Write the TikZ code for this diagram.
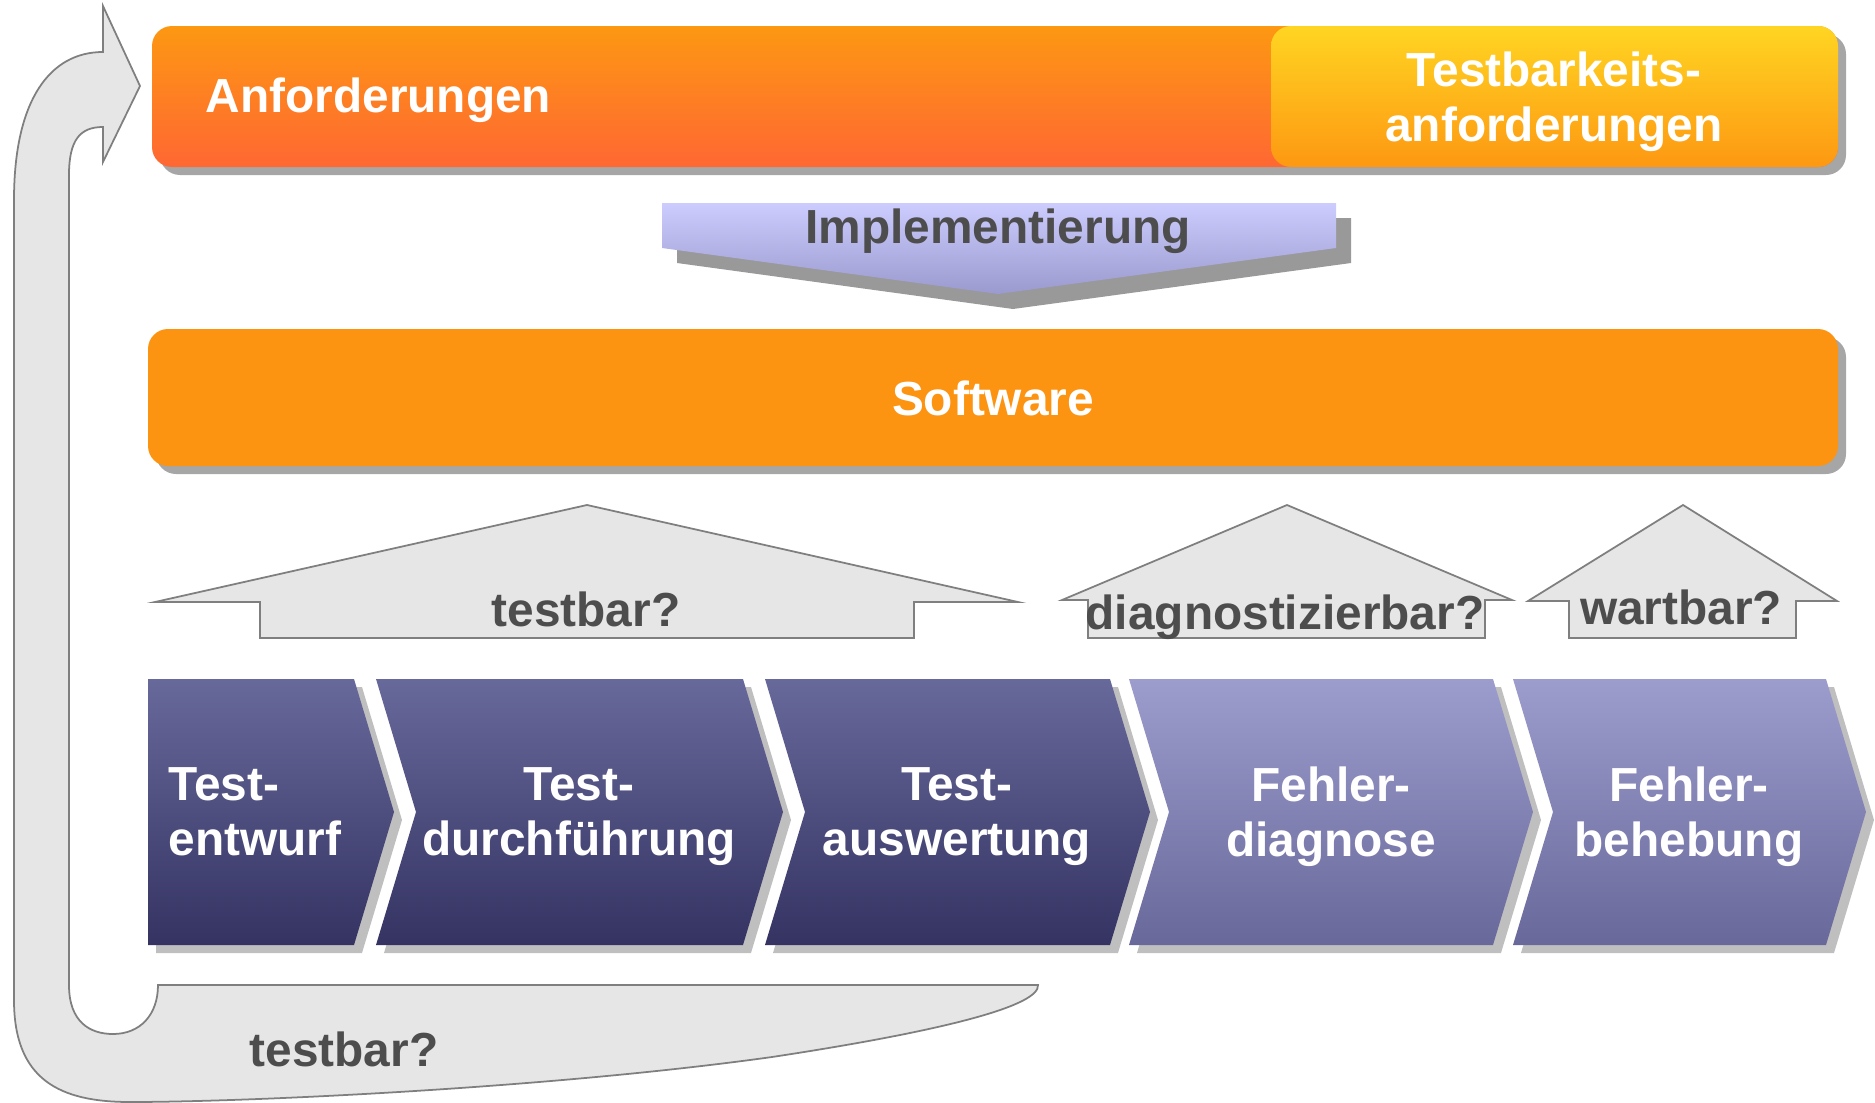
\documentclass[tikz,border=0pt]{standalone}
\usepackage{fontspec}
\setmainfont{Liberation Sans}
\usepackage{tikz}
\definecolor{palette_orange}{HTML}{FD9812}
\definecolor{palette_rougeor}{HTML}{FF6733}
\definecolor{palette_jaune}{HTML}{FFD522}
\definecolor{palette_soft}{HTML}{FC9412}
\definecolor{palette_lilas}{HTML}{CCCCFF}
\definecolor{palette_lilasf}{HTML}{9A9ACE}
\definecolor{palette_navy}{HTML}{68699B}
\definecolor{palette_navyf}{HTML}{343362}
\definecolor{palette_mauve}{HTML}{9C9CCD}
\definecolor{palette_mauvef}{HTML}{69689A}
\definecolor{palette_gris}{HTML}{E6E6E6}
\definecolor{palette_trait}{HTML}{7F7F7F}
\definecolor{palette_texte}{HTML}{4D4D4D}
\definecolor{palette_ombre}{HTML}{A6A6A6}
\definecolor{palette_ombrei}{HTML}{999999}
\definecolor{palette_ombrec}{HTML}{BFBFBF}

\begin{document}
\begin{tikzpicture}[x=0.01cm, y=-0.01cm,
    txt/.style={font=\fontsize{13.6}{15.6}\selectfont\bfseries, text=white, inner sep=0pt},
    txtgris/.style={txt, text=palette_texte},
    fleche/.style={fill=palette_gris, draw=palette_trait, line width=0.5pt},
    barre/.style={rounded corners=0.2cm}]

    \useasboundingbox (0,0) rectangle (1875,1103);

    % retour
    \draw[fleche] (140,86) -- (103,162) -- (103,127) .. controls (80,127) and (69,140) .. (69,175) -- (69,985)
        .. controls (69,1022) and (90,1034) .. (113,1034) .. controls (140,1034) and (158,1015) .. (158,985)
        -- (1038,985) .. controls (1040,1005) and (950,1030) .. (772,1057) .. controls (550,1088) and (250,1102) .. (130,1102)
        .. controls (60,1102) and (14,1080) .. (14,1000) -- (14,200) .. controls (14,100) and (50,52) .. (103,52) -- (103,6) -- cycle;
    \node[txtgris, anchor=base] (testbar2) at (344,1066) {testbar?};

    \fill[palette_ombre, barre] (160,34) rectangle (1846,175);
    \shade[top color=palette_orange, bottom color=palette_rougeor, barre] (152,26) rectangle (1838,167);
    \shade[top color=palette_jaune, bottom color=palette_orange, barre] (1271,26) rectangle (1838,167);
    \node[txt, anchor=base west] (anf) at (205,113) {Anforderungen};
    \node[txt, align=center] (tbanf) at (1554,102) {Testbarkeits-\\anforderungen};

    \fill[palette_ombrei] (677,218) -- (1351,218) -- (1351,263) -- (1013,309) -- (677,263) -- cycle;
    \shade[top color=palette_lilas, bottom color=palette_lilasf] (662,203) -- (1336,203) -- (1336,248) -- (998,294) -- (662,248) -- cycle;
    \node[txtgris, anchor=base] (impl) at (998,243) {Implementierung};

    \fill[palette_ombre, barre] (156,337) rectangle (1846,474);
    \fill[palette_soft, barre] (148,329) rectangle (1838,466);
    \node[txt, anchor=base] (soft) at (993,415) {Software};

    \draw[fleche] (587,505) -- (1018,602) -- (914,602) -- (914,638) -- (260,638) -- (260,602) -- (155,602) -- cycle;
    \node[txtgris, anchor=base] (testbar1) at (586,626) {testbar?};
    \draw[fleche] (1287,505) -- (1512,600) -- (1485,600) -- (1485,638) -- (1088,638) -- (1088,600) -- (1062,600) -- cycle;
    \node[txtgris, anchor=base] (diag) at (1285,629) {diagnostizierbar?};
    \draw[fleche] (1683,505) -- (1837,601) -- (1796,601) -- (1796,638) -- (1569,638) -- (1569,601) -- (1528,601) -- cycle;
    \node[txtgris, anchor=base] (wart) at (1681,624) {wartbar?};

    \fill[palette_ombrec, shift={(8,8)}] (148,679) -- (354,679) -- (394,812) -- (354,945) -- (148,945) -- cycle;
    \shade[top color=palette_navy, bottom color=palette_navyf] (148,679) -- (354,679) -- (394,812) -- (354,945) -- (148,945) -- cycle;
    \fill[palette_ombrec, shift={(8,8)}] (376,679) -- (743,679) -- (783,812) -- (743,945) -- (376,945) -- (416,812) -- cycle;
    \shade[top color=palette_navy, bottom color=palette_navyf] (376,679) -- (743,679) -- (783,812) -- (743,945) -- (376,945) -- (416,812) -- cycle;
    \fill[palette_ombrec, shift={(8,8)}] (765,679) -- (1110,679) -- (1150,812) -- (1110,945) -- (765,945) -- (805,812) -- cycle;
    \shade[top color=palette_navy, bottom color=palette_navyf] (765,679) -- (1110,679) -- (1150,812) -- (1110,945) -- (765,945) -- (805,812) -- cycle;
    \fill[palette_ombrec, shift={(8,8)}] (1129,679) -- (1493,679) -- (1533,812) -- (1493,945) -- (1129,945) -- (1169,812) -- cycle;
    \shade[top color=palette_mauve, bottom color=palette_mauvef] (1129,679) -- (1493,679) -- (1533,812) -- (1493,945) -- (1129,945) -- (1169,812) -- cycle;
    \fill[palette_ombrec, shift={(8,8)}] (1513,679) -- (1826,679) -- (1866,812) -- (1826,945) -- (1513,945) -- (1553,812) -- cycle;
    \shade[top color=palette_mauve, bottom color=palette_mauvef] (1513,679) -- (1826,679) -- (1866,812) -- (1826,945) -- (1513,945) -- (1553,812) -- cycle;

    \node[txt, align=left, anchor=west] (entw) at (168,812) {Test-\\entwurf};
    \node[txt, align=center] (durch) at (579,817) {Test-\\durchführung};
    \node[txt, align=center] (ausw) at (957,817) {Test-\\auswertung};
    \node[txt, align=center] (fdiag) at (1331,817) {Fehler-\\diagnose};
    \node[txt, align=center] (fbeh) at (1689,817) {Fehler-\\behebung};

\end{tikzpicture}
\end{document}
